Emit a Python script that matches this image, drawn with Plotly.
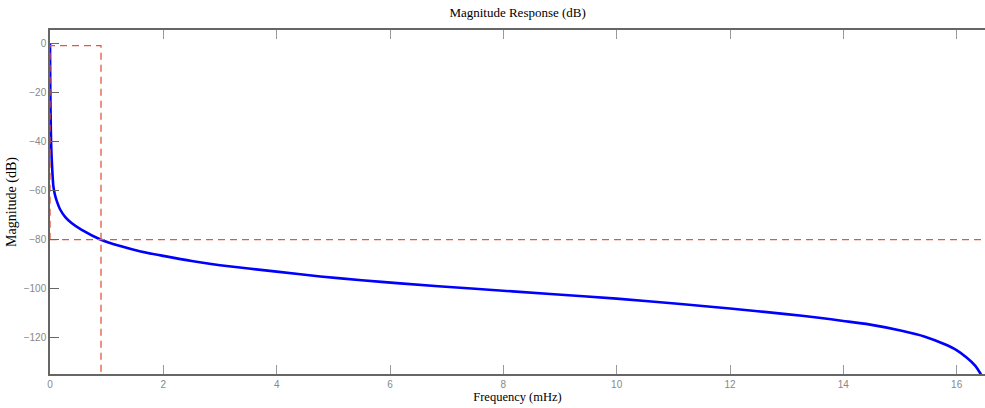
import plotly.graph_objects as go

# Magnitude response
freq_mhz = [0, 0.003, 0.006, 0.010, 0.014, 0.018, 0.027, 0.04, 0.058, 0.085, 0.12, 0.177,
            0.27, 0.38, 0.56, 0.9, 1.24, 1.6, 2.0, 2.5, 3.0, 4.0, 4.77, 5.5, 6.18, 7.5,
            8.83, 10.0, 11.13, 12.0, 12.99, 13.57, 14.0, 14.45, 15.03, 15.44, 15.79, 15.99,
            16.18, 16.33, 16.43]
mag_db = [0, -12, -20, -28, -34, -39.4, -45.5, -51.6, -58.0, -61.5, -64.3, -67.6,
          -70.8, -73.2, -76.0, -80.0, -82.6, -84.8, -86.6, -88.7, -90.4, -93.0, -95.0, -96.5,
          -97.8, -100.0, -102.1, -104.0, -106.2, -108.0, -110.3, -111.8, -113.1, -114.5,
          -117.1, -119.5, -122.6, -124.9, -128.1, -131.4, -134.9]

# Specification mask
mask_x = [0, 0, 0.9, 0.9]
mask_y = [-80, -1, -1, -134.7]
stop_x = [0, 16.5]
stop_y = [-80, -80]

x_ticks = [0, 2, 4, 6, 8, 10, 12, 14, 16]
y_ticks = [0, -20, -40, -60, -80, -100, -120]

mask_color = "rgb(228,88,60)"

fig = go.Figure()
fig.add_trace(go.Scatter(x=freq_mhz, y=mag_db, mode="lines",
                         line=dict(color="rgb(0,0,255)", width=2.6, shape="spline", smoothing=0.6),
                         hoverinfo="skip", showlegend=False))
fig.add_trace(go.Scatter(x=mask_x, y=mask_y, mode="lines",
                         line=dict(color=mask_color, width=1.3, dash="7px,5px"),
                         showlegend=False))
fig.add_trace(go.Scatter(x=stop_x, y=stop_y, mode="lines",
                         line=dict(color=mask_color, width=1.3, dash="7px,5px"),
                         showlegend=False))

tickfont = dict(family="Liberation Sans, Arial", size=10, color="#888888")
fig.update_layout(
    template="none",
    width=985, height=408,
    margin=dict(l=50, r=0, t=30, b=34, pad=0, autoexpand=False),
    paper_bgcolor="white", plot_bgcolor="white",
    title=dict(text="Magnitude Response (dB)", x=0.5255, xanchor="center", y=0.97, yanchor="middle",
               font=dict(family="Liberation Serif, Times New Roman", size=13, color="black")),
    xaxis=dict(range=[0, 16.5], tickvals=x_ticks, ticks="inside", ticklen=9, tickcolor="#999999",
               showline=True, linecolor="#666666", linewidth=1.5, mirror="ticks",
               showgrid=False, zeroline=False, tickfont=tickfont, automargin=False,
               title=dict(text="Frequency (mHz)", standoff=2,
                          font=dict(family="Liberation Serif, Times New Roman", size=12.5, color="black"))),
    yaxis=dict(range=[-134.7, 5.4], tickvals=y_ticks, ticks="inside", ticklen=9, tickcolor="#666666",
               showline=True, linecolor="#666666", linewidth=1.5,
               showgrid=False, zeroline=False, tickfont=tickfont, automargin=False,
               title=dict(text="Magnitude (dB)", standoff=4,
                          font=dict(family="Liberation Serif, Times New Roman", size=14, color="black"))),
)

fig.write_html("out.html", config={"displayModeBar": False},
               post_script="document.body.style.margin='0';document.body.style.overflow='hidden';")
